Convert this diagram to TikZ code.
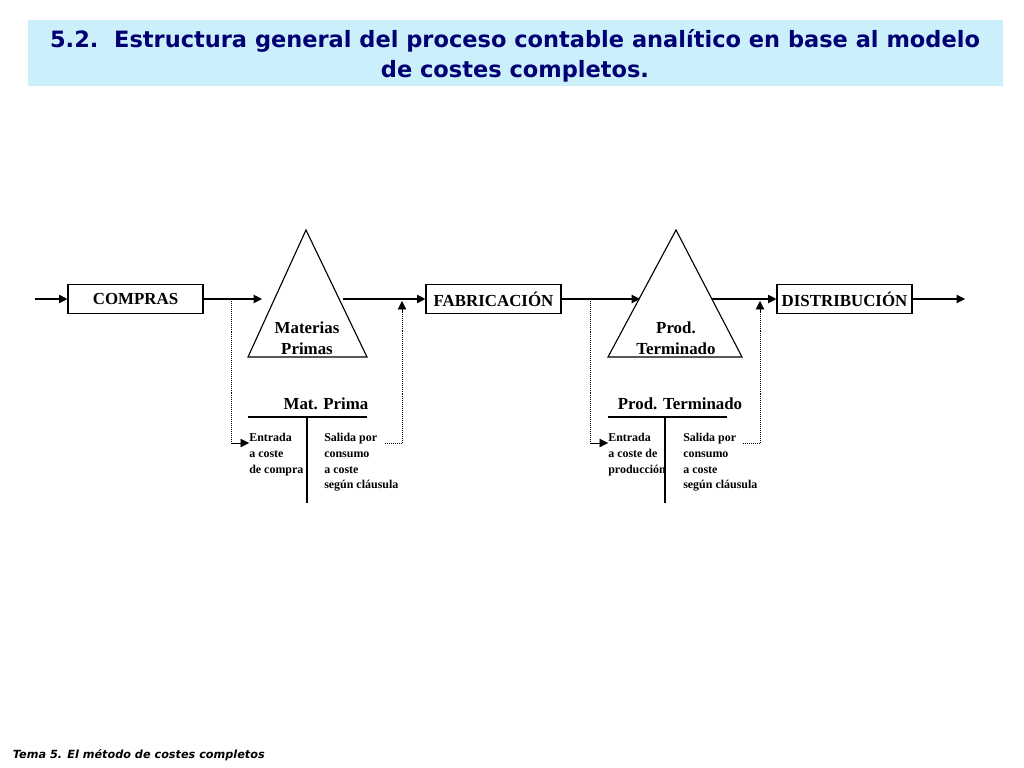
\documentclass[tikz,border=0pt]{standalone}
\usepackage{fontspec}
\setmainfont{Liberation Serif}
\newfontfamily\titlefont{DejaVu Sans}
\usetikzlibrary{arrows.meta}
\tikzset{
  stage/.style={draw, thick, minimum width=135*0.025cm, minimum height=29*0.025cm, inner sep=0pt, font=\bfseries\fontsize{12}{14}\selectfont},
  flow/.style={thick, -{Triangle[length=6pt,width=6pt]}},
  link/.style={densely dotted},
  small/.style={align=left, anchor=north west, inner sep=0pt, font=\bfseries\fontsize{8.5}{11.2}\selectfont},
  stock/.style={thick}
}
\begin{document}
\begin{tikzpicture}[x=0.025cm, y=-0.025cm]
    \useasboundingbox (0,0) rectangle (1024,768);

    % Titulo
    \fill[cyan!20] (28,20) rectangle (1003,86);
    \node[font=\titlefont\bfseries\fontsize{16}{21}\selectfont, text=blue!45!black, align=center] (titulo) at (515,56)
      {5.2.\ \ Estructura general del proceso contable analítico en base al modelo\\de costes completos.};

    % Etapas
    \node[stage] (compras) at (135.5,299) {COMPRAS};
    \node[stage] (fabricacion) at (493.5,299) {FABRICACIÓN};
    \node[stage] (distribucion) at (844.5,299) {DISTRIBUCIÓN};

    % Almacenes
    \draw[stock] (306,230) -- (367,357) -- (248,357) -- cycle;
    \node[align=center, font=\bfseries\fontsize{12}{15}\selectfont] (mp) at (307,338) {Materias\\Primas};
    \draw[stock] (676,230) -- (742,357) -- (608,357) -- cycle;
    \node[align=center, font=\bfseries\fontsize{12}{15}\selectfont] (pt) at (676,338) {Prod.\\Terminado};

    \coordinate (inicio) at (35,299);
    \coordinate (mpin) at (262,299);
    \coordinate (mpout) at (343,299);
    \coordinate (ptin) at (640,299);
    \coordinate (ptout) at (712,299);
    \coordinate (fin) at (965,299);

    % Flujos
    \draw[flow] (inicio) -- (compras);
    \draw[flow] (compras) -- (mpin);
    \draw[flow] (mpout) -- (fabricacion);
    \draw[flow] (fabricacion) -- (ptin);
    \draw[flow] (ptout) -- (distribucion);
    \draw[flow] (distribucion) -- (fin);

    % Cuentas
    \draw[stock] (248,417) -- (367,417) (307,417) -- (307,503);
    \node[font=\bfseries\fontsize{12}{14}\selectfont] (cmp) at (326,404) {Mat. Prima};
    \node[small] (e1) at (249,433) {Entrada\\a coste\\de compra};
    \node[small] (s1) at (324,433) {Salida por\\consumo\\a coste\\según cláusula};

    \draw[stock] (608,417) -- (727,417) (665,417) -- (665,503);
    \node[font=\bfseries\fontsize{12}{14}\selectfont] (cpt) at (680,404) {Prod. Terminado};
    \node[small] (e2) at (608,433) {Entrada\\a coste de\\producción};
    \node[small] (s2) at (683,433) {Salida por\\consumo\\a coste\\según cláusula};

    % Enlaces
    \draw[link] (231,299) -- (231,443);
    \draw[flow, thin] (231,443) -- (e1.west |- 0,443);
    \draw[link] (385,443) -- (402,443) -- (402,312);
    \draw[flow, thin] (402,313) -- (402,301);
    \draw[link] (590,299) -- (590,443);
    \draw[flow, thin] (590,443) -- (e2.west |- 0,443);
    \draw[link] (743,443) -- (760,443) -- (760,312);
    \draw[flow, thin] (760,313) -- (760,301);

    % Pie
    \node[anchor=west, font=\titlefont\bfseries\itshape\fontsize{8}{9}\selectfont] (pie) at (8,755) {Tema 5. El método de costes completos};
\end{tikzpicture}
\end{document}
